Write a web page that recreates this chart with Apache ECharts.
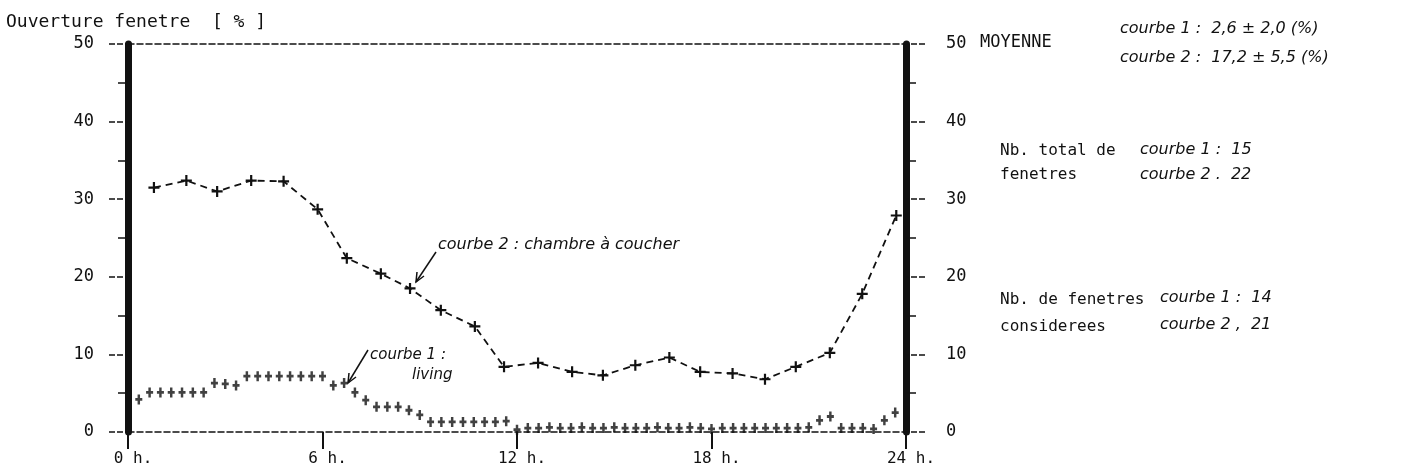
<!DOCTYPE html>
<html>
<head>
<meta charset="utf-8">
<script src="https://cdn.jsdelivr.net/npm/echarts@6.0.0/dist/echarts.min.js"></script>
<style>
  html, body { margin: 0; background: #fff; }
  #chart { width: 1411px; height: 474px; }
</style>
</head>
<body>
<div id="chart"></div>
<script>
// courbe 2 : chambre a coucher, one reading per hour
var hours2 = [0.8, 1.8, 2.75, 3.8, 4.8, 5.85, 6.75, 7.8, 8.7, 9.65, 10.7, 11.6,
              12.65, 13.7, 14.65, 15.65, 16.7, 17.65, 18.65, 19.65, 20.6, 21.65, 22.65, 23.7];
var values2 = [31.5, 32.4, 31.0, 32.4, 32.3, 28.7, 22.4, 20.4, 18.5, 15.7, 13.6, 8.4,
               8.9, 7.75, 7.3, 8.6, 9.6, 7.75, 7.55, 6.8, 8.4, 10.2, 17.8, 27.9];

// courbe 1 : living, one reading every 20 minutes (starting at 0h20)
var values1 = [4.2, 5.1, 5.1, 5.1, 5.1, 5.1, 5.1, 6.3, 6.2, 6.0,
               7.2, 7.2, 7.2, 7.2, 7.2, 7.2, 7.2, 7.2,
               6.0, 6.3, 5.1, 4.1, 3.25, 3.25, 3.25, 2.8, 2.2,
               1.3, 1.3, 1.3, 1.3, 1.3, 1.3, 1.3, 1.4,
               0.3, 0.5, 0.5, 0.6, 0.5, 0.5, 0.6, 0.5, 0.5, 0.6, 0.5, 0.5, 0.5, 0.6,
               0.5, 0.5, 0.6, 0.5, 0.4, 0.5, 0.5, 0.5, 0.5, 0.5, 0.5, 0.5, 0.5, 0.6,
               1.5, 2.0, 0.5, 0.5, 0.5, 0.4, 1.5, 2.5];
var step1 = 1 / 3;

var mono = '"DejaVu Sans Mono"';
var hand = 'italic 16px "DejaVu Sans"';
var ink = '#111';

var plus = 'path://M4,0H6V4H10V6H6V10H4V6H0V4H4Z';
var plusTall = 'path://M2.6,0H5.4V3.6H8V6.4H5.4V10H2.6V6.4H0V3.6H2.6Z';

var chart = echarts.init(document.getElementById('chart'));

function yAxisCfg(pos, margin) {
  return {
    type: 'value', position: pos, min: 0, max: 50, interval: 10,
    axisLine: { show: true, onZero: false, lineStyle: { color: ink, width: 7 } },
    axisTick: { show: true, length: 19,
      lineStyle: { color: ink, width: 1.5, type: [6, 2], dashOffset: 3 } },
    minorTick: { show: true, splitNumber: 2, length: 10,
      lineStyle: { color: ink, width: 1.5 } },
    axisLabel: { margin: margin, fontFamily: mono, fontSize: 17, color: ink },
    splitLine: { show: false }
  };
}

function txt(x, y, s, font) {
  return { type: 'text', x: x, y: y,
    style: { text: s, font: font, fill: ink, verticalAlign: 'middle' } };
}
function arrow(pts) {
  var a = pts[1];
  return [
    { type: 'polyline', shape: { points: pts }, style: { stroke: ink, lineWidth: 1.5, fill: null } },
    { type: 'polyline', shape: { points: [[a[0] + 1, a[1] - 10], a, [a[0] + 8, a[1] - 6]] },
      style: { stroke: ink, lineWidth: 1.5, fill: null } }
  ];
}

var option = {
  backgroundColor: '#fff',
  animation: false,
  grid: { left: 128, right: 505, top: 44, bottom: 42 },
  xAxis: [{
    type: 'value', position: 'bottom', min: 0, max: 24, interval: 6,
    axisLine: { onZero: false, lineStyle: { color: ink, width: 1.5, type: [6, 3] } },
    axisTick: { length: 17, lineStyle: { color: ink, width: 2 } },
    axisLabel: {
      margin: 19, fontFamily: mono, fontSize: 16, color: ink,
      align: 'center', padding: [0, 0, 0, 10],
      formatter: function (v) { return v + ' h.'; }
    },
    splitLine: { show: false }
  }, {
    type: 'value', position: 'top', min: 0, max: 24,
    axisLine: { show: true, onZero: false, lineStyle: { color: ink, width: 1.5, type: [6, 3] } },
    axisTick: { show: false }, axisLabel: { show: false }, splitLine: { show: false }
  }],
  yAxis: [yAxisCfg('left', 34), yAxisCfg('right', 40)],
  series: [{
    name: 'courbe 2',
    type: 'line',
    data: hours2.map(function (h, i) { return [h, values2[i]]; }),
    symbol: plus, symbolSize: 11, showAllSymbol: true,
    lineStyle: { color: ink, width: 1.8, type: [7, 5] },
    itemStyle: { color: ink }
  }, {
    name: 'courbe 1',
    type: 'scatter',
    data: values1.map(function (v, i) { return [(i + 1) * step1, v]; }),
    symbol: plusTall, symbolSize: [7, 10],
    itemStyle: { color: ink }
  }],
  graphic: [
    txt(6, 22, 'Ouverture fenetre  [ % ]', '18px ' + mono),
    txt(980, 43, 'MOYENNE', '17px ' + mono),
    txt(1120, 29, 'courbe 1 :  2,6 ± 2,0 (%)', hand),
    txt(1120, 58, 'courbe 2 :  17,2 ± 5,5 (%)', hand),
    txt(1000, 151, 'Nb. total de', '16px ' + mono),
    txt(1000, 175, 'fenetres', '16px ' + mono),
    txt(1140, 150, 'courbe 1 :  15', hand),
    txt(1140, 175, 'courbe 2 .  22', hand),
    txt(1000, 300, 'Nb. de fenetres', '16px ' + mono),
    txt(1000, 327, 'considerees', '16px ' + mono),
    txt(1160, 298, 'courbe 1 :  14', hand),
    txt(1160, 325, 'courbe 2 ,  21', hand),
    txt(438, 245, 'courbe 2 : chambre à coucher', hand),
    txt(370, 355, 'courbe 1 :', 'italic 15px "DejaVu Sans"'),
    txt(412, 375, 'living', 'italic 15px "DejaVu Sans"')
  ].concat(arrow([[436, 252], [416, 282]]), arrow([[368, 350], [348, 383]]))
};
chart.setOption(option);
</script>
</body>
</html>
